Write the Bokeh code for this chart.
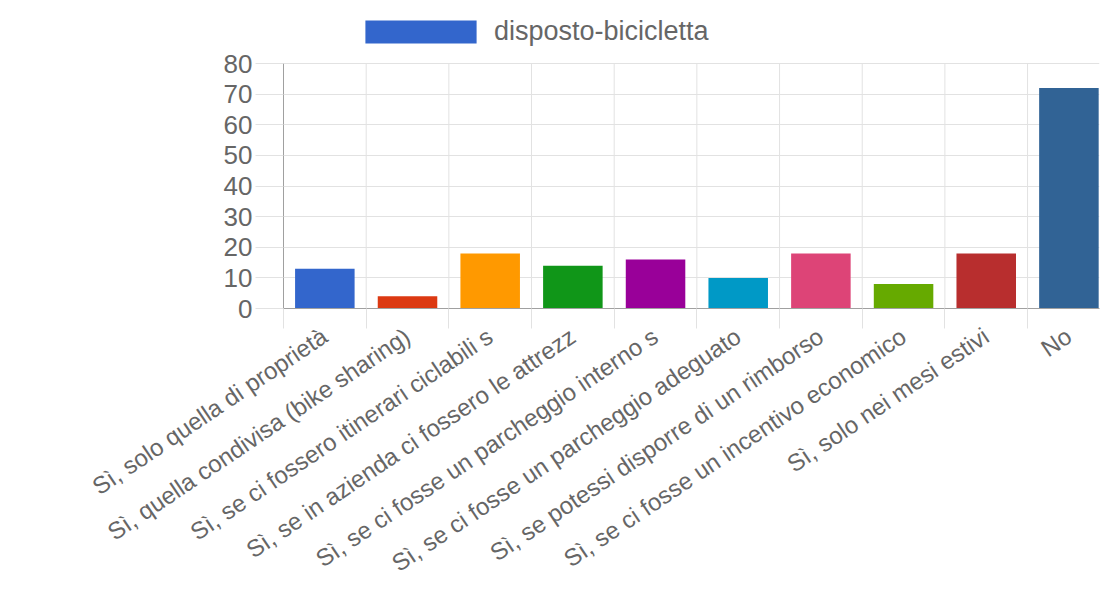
import math
from bokeh.plotting import figure
from bokeh.models import (ColumnDataSource, FixedTicker, LinearAxis, Range1d,
                          Legend, LegendItem)
from bokeh.embed import file_html
from bokeh.resources import INLINE

categories = [
    "Sì, solo quella di proprietà",
    "Sì, quella condivisa (bike sharing)",
    "Sì, se ci fossero itinerari ciclabili s",
    "Sì, se in azienda ci fossero le attrezz",
    "Sì, se ci fosse un parcheggio interno s",
    "Sì, se ci fosse un parcheggio adeguato",
    "Sì, se potessi disporre di un rimborso",
    "Sì, se ci fosse un incentivo economico",
    "Sì, solo nei mesi estivi",
    "No",
]
values = [13, 4, 18, 14, 16, 10, 18, 8, 18, 72]
bar_colors = ["#3366CC", "#DC3912", "#FF9900", "#109618", "#990099",
              "#0099C6", "#DD4477", "#66AA00", "#B82E2E", "#316395"]
y_ticks = [0, 10, 20, 30, 40, 50, 60, 70, 80]
series_name = "disposto-bicicletta"

positions = list(range(len(categories)))
boundaries = [i - 0.5 for i in range(len(categories))]
y_min, y_max = y_ticks[0], y_ticks[-1]

src = ColumnDataSource(dict(x=positions, top=values, color=bar_colors))
sep = ColumnDataSource(dict(x=boundaries,
                            y0=[y_min] * len(boundaries),
                            y1=[y_max] * len(boundaries)))

FONT = "Liberation Sans"
TXT = "#666666"
GRID = "#e2e2e2"
AXIS = "#a0a0a0"

# frame: 245 px for the 0..80 scale, extra headroom above holds the legend
px_per_unit = 245 / (y_max - y_min)
headroom = 63 / px_per_unit

p = figure(width=1100, height=591,
           x_range=Range1d(-0.5, 9.37),
           y_range=Range1d(y_min, y_max + headroom),
           x_axis_type=None, output_backend="svg", toolbar_location=None,
           min_border_left=283, min_border_right=1,
           min_border_top=0, min_border_bottom=283)
p.outline_line_color = None
p.background_fill_color = "white"
p.border_fill_color = "white"

# vertical category separators (grid lines at category boundaries)
p.segment(x0="x", y0="y0", x1="x", y1="y1", source=sep,
          line_color=GRID, line_width=1)

bars = p.vbar(x="x", top="top", width=0.72, fill_color="color",
              line_color=None, source=src)

# x axis with category labels (ticks at centres), minor ticks at boundaries
xaxis = LinearAxis(
    ticker=FixedTicker(ticks=positions, minor_ticks=boundaries),
    major_label_overrides={i: c for i, c in enumerate(categories)},
    major_label_orientation=math.radians(34),
    major_label_text_font=FONT,
    major_label_text_font_size="24px",
    major_label_text_color=TXT,
    major_label_standoff=5,
    major_tick_out=17, major_tick_in=0, major_tick_line_color=None,
    minor_tick_out=20, minor_tick_in=0, minor_tick_line_color=GRID,
    axis_line_color=AXIS,
)
p.add_layout(xaxis, "below")

yaxis = p.yaxis[0]
yaxis.ticker = FixedTicker(ticks=y_ticks)
yaxis.bounds = (y_min, y_max)
yaxis.major_label_text_font = FONT
yaxis.major_label_text_font_size = "26px"
yaxis.major_label_text_color = TXT
yaxis.major_label_standoff = 3
yaxis.major_tick_out = 28
yaxis.major_tick_in = 0
yaxis.major_tick_line_color = GRID
yaxis.minor_tick_line_color = None
yaxis.axis_line_color = AXIS
p.ygrid.grid_line_color = GRID

legend = Legend(
    items=[LegendItem(label=series_name, renderers=[bars], index=0)],
    location=(68, 261), orientation="horizontal",
    glyph_width=139, glyph_height=29, label_height=29,
    label_standoff=4, label_text_font=FONT, label_text_font_size="27px",
    label_text_color=TXT, label_text_baseline="middle",
    border_line_color=None, background_fill_alpha=0,
    padding=0, margin=0, spacing=0,
)
p.add_layout(legend, "center")

open("out.html", "w").write(file_html(p, INLINE))
